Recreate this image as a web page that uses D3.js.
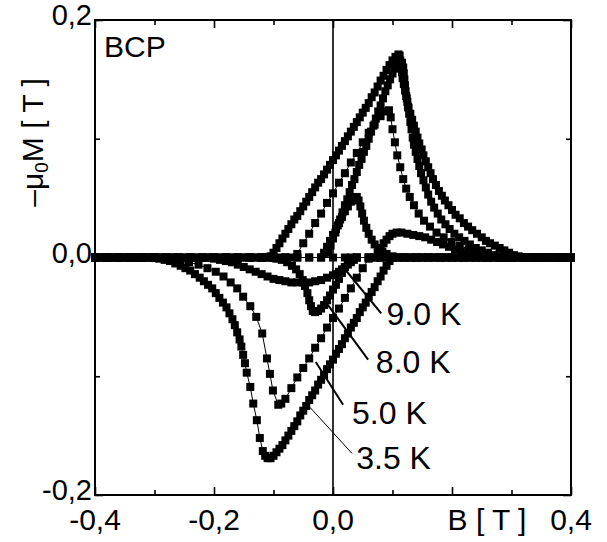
<!DOCTYPE html>
<html><head><meta charset="utf-8">
<script src="https://cdn.jsdelivr.net/npm/d3@7"></script>
<style>body{margin:0;background:#fff} text{font-family:"Liberation Sans",Arial,Helvetica,sans-serif;fill:#000}</style>
</head><body>
<svg id="c" width="607" height="542"></svg>
<script>
// ---------- data ----------
const xMajorTicks = [-0.4, -0.2, 0, 0.2, 0.4];
const xMinorTicks = [-0.3, -0.1, 0.1, 0.3];
const xTickLabels = ["-0,4", "-0,2", "0,0", "", "0,4"];
const yMajorTicks = [-0.2, 0, 0.2];
const yMinorTicks = [-0.1, 0.1];
const yTickLabels = ["-0,2", "0,0", "0,2"];
const temps = ["9.0 K", "8.0 K", "5.0 K", "3.5 K"];

// 3.5 K loop: increasing branch then decreasing branch  [B (T), -mu0M (T)]
const loop35 = [
[-0.40,0],[-0.39,0],[-0.38,0],[-0.37,0],[-0.36,0],[-0.35,0],[-0.34,0],[-0.33,0],[-0.32,0],[-0.31,0],[-0.30,0],[-0.29,0],[-0.28,0],[-0.27,0],[-0.26,0],[-0.25,0],[-0.24,0],[-0.23,0],[-0.22,0],[-0.21,0],[-0.20,0],[-0.19,0],[-0.18,0],[-0.17,0],[-0.16,0],[-0.15,0],[-0.14,0],[-0.13,0],[-0.12,0],[-0.11,0],
[-0.105,0.001],[-0.10,0.004],[-0.095,0.008],[-0.09,0.012],[-0.085,0.016],[-0.08,0.020],[-0.075,0.024],[-0.07,0.028],[-0.065,0.032],[-0.06,0.035],[-0.055,0.039],[-0.05,0.043],[-0.045,0.047],[-0.04,0.051],[-0.035,0.055],[-0.03,0.059],[-0.025,0.063],[-0.02,0.066],[-0.015,0.070],[-0.01,0.074],[-0.005,0.078],[0,0.082],[0.005,0.086],[0.01,0.090],[0.015,0.094],[0.02,0.098],[0.025,0.102],[0.03,0.106],[0.035,0.110],[0.04,0.114],[0.045,0.118],[0.05,0.122],[0.055,0.126],[0.06,0.130],[0.065,0.135],[0.07,0.139],[0.075,0.144],[0.08,0.149],[0.085,0.153],[0.09,0.158],[0.095,0.162],[0.10,0.166],[0.105,0.169],[0.11,0.171],
[0.112,0.170],[0.113,0.166],[0.114,0.161],[0.116,0.156],[0.117,0.151],[0.119,0.146],[0.121,0.141],[0.123,0.136],[0.125,0.131],[0.127,0.126],[0.130,0.121],[0.133,0.116],[0.136,0.111],[0.139,0.106],[0.142,0.101],[0.145,0.096],[0.149,0.091],[0.152,0.086],[0.156,0.081],[0.160,0.076],[0.164,0.071],[0.168,0.066],[0.173,0.061],[0.178,0.056],[0.183,0.052],[0.188,0.048],[0.194,0.044],[0.200,0.040],[0.206,0.036],[0.213,0.033],[0.220,0.029],[0.227,0.026],[0.234,0.023],[0.242,0.020],[0.250,0.017],[0.257,0.014],[0.264,0.012],[0.272,0.010],[0.280,0.008],[0.288,0.006],[0.296,0.004],[0.304,0.002],[0.312,0.001],[0.32,0],
[0.33,0],[0.34,0],[0.35,0],[0.36,0],[0.37,0],[0.38,0],[0.39,0],[0.40,0],
[0.39,0],[0.38,0],[0.37,0],[0.36,0],[0.35,0],[0.34,0],[0.33,0],[0.32,0],[0.31,0],[0.30,0],[0.29,0],[0.28,0],[0.27,0],[0.26,0],[0.25,0],[0.24,0],[0.23,0],[0.22,0],[0.21,0],[0.20,0],[0.19,0],[0.18,0],[0.17,0],[0.16,0],[0.15,0],[0.14,0],[0.13,0],[0.12,0],[0.11,0],[0.10,0],
[0.095,-0.003],[0.09,-0.007],[0.085,-0.011],[0.08,-0.016],[0.075,-0.020],[0.07,-0.025],[0.065,-0.029],[0.06,-0.033],[0.055,-0.038],[0.05,-0.042],[0.045,-0.046],[0.04,-0.051],[0.035,-0.055],[0.03,-0.059],[0.025,-0.064],[0.02,-0.068],[0.015,-0.073],[0.01,-0.077],[0.005,-0.081],[0,-0.086],[-0.005,-0.090],[-0.01,-0.094],[-0.015,-0.099],[-0.02,-0.103],[-0.025,-0.107],[-0.03,-0.112],[-0.035,-0.116],[-0.04,-0.120],[-0.045,-0.125],[-0.05,-0.129],[-0.055,-0.133],[-0.06,-0.138],[-0.065,-0.142],[-0.07,-0.146],[-0.075,-0.150],[-0.08,-0.154],[-0.085,-0.158],[-0.09,-0.161],[-0.095,-0.164],[-0.10,-0.167],[-0.105,-0.169],[-0.11,-0.169],
[-0.114,-0.167],[-0.118,-0.163],[-0.123,-0.152],[-0.128,-0.137],[-0.134,-0.123],[-0.139,-0.109],[-0.145,-0.097],
[-0.148,-0.089],[-0.151,-0.082],[-0.154,-0.075],[-0.157,-0.069],[-0.161,-0.063],[-0.165,-0.057],[-0.169,-0.052],[-0.174,-0.047],[-0.179,-0.042],[-0.185,-0.038],[-0.191,-0.034],[-0.197,-0.030],[-0.203,-0.026],[-0.210,-0.023],[-0.217,-0.020],[-0.224,-0.017],[-0.232,-0.014],[-0.240,-0.011],[-0.248,-0.009],[-0.256,-0.007],[-0.265,-0.005],[-0.274,-0.003],[-0.283,-0.002],[-0.292,-0.001],[-0.30,0],
[-0.31,0],[-0.32,0],[-0.33,0],[-0.34,0],[-0.35,0],[-0.36,0],[-0.37,0],[-0.38,0],[-0.39,0],[-0.40,0]
];
// 3.5 K initial curve (rise from zero field, then its own decay)
const virgin35 = [
[-0.008,0.004],[-0.004,0.010],[0,0.016],[0.004,0.021],[0.008,0.027],[0.012,0.032],[0.016,0.038],[0.020,0.044],[0.024,0.049],[0.028,0.055],[0.032,0.061],[0.036,0.066],[0.040,0.072],[0.044,0.078],[0.048,0.083],[0.052,0.089],[0.056,0.094],[0.060,0.100],[0.064,0.106],[0.068,0.111],[0.072,0.117],[0.076,0.123],[0.080,0.128],[0.084,0.134],[0.088,0.140],[0.092,0.145],[0.096,0.150],[0.100,0.155],[0.104,0.159],[0.108,0.162],[0.112,0.164],[0.116,0.164],
[0.118,0.160],[0.119,0.155],[0.120,0.150],[0.121,0.145],[0.122,0.140],[0.124,0.134],[0.126,0.127],[0.128,0.121],[0.130,0.114],[0.132,0.108],[0.134,0.101],[0.136,0.095],[0.139,0.089],[0.142,0.083],[0.145,0.077],[0.148,0.071],[0.152,0.065],[0.156,0.059],[0.160,0.053],[0.165,0.047],[0.170,0.042],[0.176,0.037],[0.182,0.032],[0.189,0.028],[0.196,0.024],[0.204,0.020],[0.212,0.017],[0.221,0.014],[0.230,0.011],[0.240,0.008],[0.250,0.006],[0.260,0.004],[0.270,0.002],[0.28,0.001],[0.29,0]
];
// 5.0 K loop
const loop50 = [
[-0.40,0],[-0.39,0],[-0.38,0],[-0.37,0],[-0.36,0],[-0.35,0],[-0.34,0],[-0.33,0],[-0.32,0],[-0.31,0],[-0.30,0],[-0.29,0],[-0.28,0],[-0.27,0],[-0.26,0],[-0.25,0],[-0.24,0],[-0.23,0],[-0.22,0],[-0.21,0],[-0.20,0],[-0.19,0],[-0.18,0],[-0.17,0],[-0.16,0],[-0.15,0],[-0.14,0],[-0.13,0],[-0.12,0],[-0.11,0],[-0.10,0],[-0.09,0],[-0.08,0],[-0.07,0],
[-0.06,0.003],[-0.05,0.012],[-0.04,0.020],[-0.03,0.029],[-0.02,0.037],[-0.01,0.046],[0,0.054],[0.01,0.063],[0.02,0.071],[0.03,0.080],[0.04,0.088],[0.05,0.097],[0.06,0.105],[0.07,0.112],[0.08,0.119],[0.088,0.123],[0.094,0.124],
[0.097,0.118],[0.100,0.108],[0.104,0.097],[0.108,0.086],[0.113,0.076],[0.118,0.066],[0.123,0.058],[0.129,0.051],[0.136,0.044],[0.144,0.037],[0.153,0.031],[0.163,0.026],[0.174,0.021],[0.186,0.017],[0.199,0.013],[0.213,0.010],[0.228,0.007],[0.244,0.005],[0.26,0.003],[0.276,0.001],[0.29,0],
[0.30,0],[0.31,0],[0.32,0],[0.33,0],[0.34,0],[0.35,0],[0.36,0],[0.37,0],[0.38,0],[0.39,0],[0.40,0],
[0.39,0],[0.38,0],[0.37,0],[0.36,0],[0.35,0],[0.34,0],[0.33,0],[0.32,0],[0.31,0],[0.30,0],[0.29,0],[0.28,0],[0.27,0],[0.26,0],[0.25,0],[0.24,0],[0.23,0],[0.22,0],[0.21,0],[0.20,0],[0.19,0],[0.18,0],[0.17,0],[0.16,0],[0.15,0],[0.14,0],[0.13,0],[0.12,0],[0.11,0],[0.10,0],[0.09,0],[0.08,0],[0.07,0],
[0.06,-0.001],[0.05,-0.009],[0.04,-0.017],[0.03,-0.026],[0.02,-0.034],[0.01,-0.043],[0,-0.051],[-0.01,-0.059],[-0.02,-0.068],[-0.03,-0.076],[-0.04,-0.085],[-0.05,-0.093],[-0.06,-0.101],[-0.07,-0.110],[-0.08,-0.119],[-0.087,-0.123],[-0.092,-0.124],
[-0.101,-0.112],[-0.106,-0.098],[-0.111,-0.085],[-0.119,-0.064],[-0.129,-0.050],[-0.139,-0.041],[-0.151,-0.033],[-0.161,-0.026],[-0.172,-0.021],[-0.184,-0.016],[-0.197,-0.012],[-0.211,-0.009],[-0.226,-0.006],[-0.242,-0.004],[-0.258,-0.002],[-0.274,-0.001],[-0.29,0],
[-0.30,0],[-0.31,0],[-0.32,0],[-0.33,0],[-0.34,0],[-0.35,0],[-0.36,0],[-0.37,0],[-0.38,0],[-0.39,0],[-0.40,0]
];
// 8.0 K loop
const loop80 = [
[-0.40,0],[-0.38,0],[-0.36,0],[-0.34,0],[-0.32,0],[-0.30,0],[-0.28,0],[-0.26,0],[-0.24,0],[-0.22,0],[-0.20,0],[-0.18,0],[-0.16,0],[-0.14,0],[-0.12,0],[-0.10,0],[-0.08,0],[-0.06,0],[-0.04,0],[-0.02,0],
[-0.015,0.004],[-0.01,0.009],[-0.005,0.014],[0,0.019],[0.005,0.024],[0.01,0.029],[0.015,0.034],[0.02,0.039],[0.025,0.043],[0.03,0.047],[0.035,0.050],[0.04,0.051],[0.043,0.048],[0.046,0.043],[0.049,0.037],[0.052,0.031],[0.056,0.025],[0.06,0.020],[0.065,0.015],[0.07,0.011],[0.076,0.008],[0.083,0.005],[0.09,0.003],[0.10,0.001],[0.11,0],
[0.13,0],[0.15,0],[0.17,0],[0.19,0],[0.21,0],[0.23,0],[0.25,0],[0.27,0],[0.29,0],[0.31,0],[0.33,0],[0.35,0],[0.37,0],[0.39,0],[0.40,0],
[0.38,0],[0.36,0],[0.34,0],[0.32,0],[0.30,0],[0.28,0],[0.26,0],[0.24,0],[0.22,0],[0.20,0],[0.18,0],[0.16,0],[0.14,0],[0.12,0],[0.10,0],[0.08,0],[0.06,0],[0.04,0],[0.03,0],
[0.025,-0.003],[0.02,-0.008],[0.015,-0.013],[0.01,-0.018],[0.005,-0.023],[0,-0.027],[-0.005,-0.032],[-0.01,-0.036],[-0.015,-0.040],[-0.02,-0.043],[-0.025,-0.045],[-0.03,-0.046],[-0.034,-0.045],[-0.037,-0.041],[-0.040,-0.036],[-0.043,-0.030],[-0.047,-0.024],[-0.051,-0.019],[-0.056,-0.014],[-0.062,-0.010],[-0.069,-0.007],[-0.077,-0.004],[-0.086,-0.002],[-0.095,-0.001],[-0.105,0],
[-0.12,0],[-0.14,0],[-0.16,0],[-0.18,0],[-0.20,0],[-0.22,0],[-0.24,0],[-0.26,0],[-0.28,0],[-0.30,0],[-0.32,0],[-0.34,0],[-0.36,0],[-0.38,0],[-0.40,0]
];
// 9.0 K loop
const loop90 = [
[-0.40,0],[-0.38,0],[-0.36,0],[-0.34,0],[-0.32,0],[-0.30,0],[-0.28,0],[-0.26,0],[-0.24,0],[-0.22,0],[-0.20,0],[-0.18,0],[-0.16,0],[-0.14,0],[-0.12,0],[-0.10,0],[-0.08,0],[-0.06,0],[-0.04,0],[-0.02,0],[0,0],[0.02,0],[0.04,0],[0.06,0],[0.07,0],
[0.075,0.004],[0.08,0.008],[0.085,0.012],[0.09,0.015],[0.095,0.018],[0.10,0.020],[0.107,0.021],[0.115,0.021],[0.125,0.020],[0.135,0.019],[0.145,0.018],[0.155,0.017],[0.165,0.015],[0.175,0.013],[0.185,0.011],[0.195,0.009],[0.205,0.007],[0.215,0.005],[0.225,0.003],[0.235,0.002],[0.245,0.001],[0.255,0],
[0.28,0],[0.30,0],[0.32,0],[0.34,0],[0.36,0],[0.38,0],[0.40,0],
[0.38,0],[0.36,0],[0.34,0],[0.32,0],[0.30,0],[0.28,0],[0.26,0],[0.24,0],[0.22,0],[0.20,0],[0.18,0],[0.16,0],[0.14,0],[0.12,0],[0.10,0],[0.08,0],[0.06,0],[0.04,0],
[0.035,-0.002],[0.03,-0.004],[0.025,-0.006],[0.02,-0.008],[0.015,-0.010],[0.01,-0.012],[0.005,-0.014],[0,-0.015],[-0.01,-0.017],[-0.02,-0.019],[-0.03,-0.020],[-0.04,-0.021],[-0.05,-0.021],[-0.06,-0.021],[-0.07,-0.021],[-0.08,-0.020],[-0.09,-0.019],[-0.10,-0.018],[-0.11,-0.016],[-0.12,-0.014],[-0.13,-0.012],[-0.14,-0.010],[-0.15,-0.008],[-0.16,-0.006],[-0.17,-0.004],[-0.18,-0.003],[-0.19,-0.002],[-0.20,-0.001],[-0.21,0],
[-0.24,0],[-0.27,0],[-0.30,0],[-0.33,0],[-0.36,0],[-0.40,0]
];
const series = [loop90, loop80, loop50, loop35, virgin35];

// leader lines for temperature labels: [B, M] at label end and at curve end
const leaders = [
  [[0.081,-0.047],[0.017,-0.008]],
  [[0.059,-0.086],[-0.013,-0.037]],
  [[0.017,-0.124],[-0.029,-0.088]],
  [[0.032,-0.165],[-0.039,-0.126]]
];
const labelAnchors = [[0.090,-0.057],[0.072,-0.097],[0.032,-0.140],[0.039,-0.178]];

// ---------- chart ----------
const svg = d3.select("#c");
const L = 95, R = 571, T = 20, Bt = 495;
const x = d3.scaleLinear().domain([-0.4, 0.4]).range([L, R]);
const y = d3.scaleLinear().domain([-0.2, 0.2]).range([Bt, T]);

svg.append("line").attr("x1", x(0)).attr("x2", x(0)).attr("y1", T).attr("y2", Bt)
  .attr("stroke", "#000").attr("stroke-width", 1.6);
svg.append("line").attr("x1", L).attr("x2", R).attr("y1", y(0)).attr("y2", y(0))
  .attr("stroke", "#000").attr("stroke-width", 1.2);

const line = d3.line().x(d => x(d[0])).y(d => y(d[1]));
const gData = svg.append("g");
const S = 8;
series.forEach(s => {
  gData.append("path").attr("d", line(s)).attr("fill", "none").attr("stroke", "#000").attr("stroke-width", 1);
  gData.selectAll(null).data(s).enter().append("rect")
    .attr("x", d => x(d[0]) - S / 2).attr("y", d => y(d[1]) - S / 2)
    .attr("width", S).attr("height", S).attr("fill", "#000");
});

function ax(gen, tr, vals, size) {
  svg.append("g").attr("transform", tr)
    .call(gen.tickValues(vals).tickSize(size).tickFormat(""))
    .call(g => g.select(".domain").remove())
    .call(g => g.selectAll("line").attr("stroke", "#000").attr("stroke-width", 1.6));
}
ax(d3.axisBottom(x), `translate(0,${Bt})`, xMajorTicks, -8);
ax(d3.axisBottom(x), `translate(0,${Bt})`, xMinorTicks, -5);
ax(d3.axisTop(x), `translate(0,${T})`, xMajorTicks, -8);
ax(d3.axisTop(x), `translate(0,${T})`, xMinorTicks, -5);
ax(d3.axisLeft(y), `translate(${L},0)`, yMajorTicks, -8);
ax(d3.axisLeft(y), `translate(${L},0)`, yMinorTicks, -5);
ax(d3.axisRight(y), `translate(${R},0)`, yMajorTicks, -8);
ax(d3.axisRight(y), `translate(${R},0)`, yMinorTicks, -5);
svg.append("rect").attr("x", L).attr("y", T).attr("width", R - L).attr("height", Bt - T)
  .attr("fill", "none").attr("stroke", "#000").attr("stroke-width", 2);

xMajorTicks.forEach((v, i) => {
  svg.append("text").attr("x", x(v)).attr("y", Bt + 35).attr("text-anchor", "middle")
    .attr("font-size", 30).text(xTickLabels[i]);
});
yMajorTicks.forEach((v, i) => {
  svg.append("text").attr("x", L - 3).attr("y", y(v) + 5).attr("text-anchor", "end")
    .attr("font-size", 29).text(yTickLabels[i]);
});
svg.append("text").attr("x", x(0.2) + 35).attr("y", Bt + 35).attr("text-anchor", "middle")
  .attr("font-size", 30).text("B [ T ]");

// y title, fitted to the reference length (about 129 px)
const yt = svg.append("text").attr("transform", `translate(43,${(T + Bt) / 2 - 115}) rotate(-90)`)
  .attr("text-anchor", "middle").attr("font-size", 30);
yt.append("tspan").text("\u2013\u03bc");
yt.append("tspan").attr("font-size", 19).attr("dy", 5).text("0");
yt.append("tspan").attr("dy", -5).text("M [ T ]");
const w = yt.node().getBBox().width;
if (w > 0 && Math.abs(w - 129) > 4) {
  const k = 129 / w;
  yt.attr("font-size", 30 * k);
  yt.selectAll("tspan").filter((d, i) => i === 1).attr("font-size", 19 * k);
}

svg.append("text").attr("x", 104).attr("y", 57).attr("font-size", 30).text("BCP");

leaders.forEach((l, i) => {
  svg.append("line").attr("x1", x(l[0][0])).attr("y1", y(l[0][1]))
    .attr("x2", x(l[1][0])).attr("y2", y(l[1][1]))
    .attr("stroke", "#000").attr("stroke-width", i === 3 ? 1 : 2);
  svg.append("text").attr("x", x(labelAnchors[i][0])).attr("y", y(labelAnchors[i][1]))
    .attr("font-size", 32).text(temps[i]);
});
</script>
</body></html>
